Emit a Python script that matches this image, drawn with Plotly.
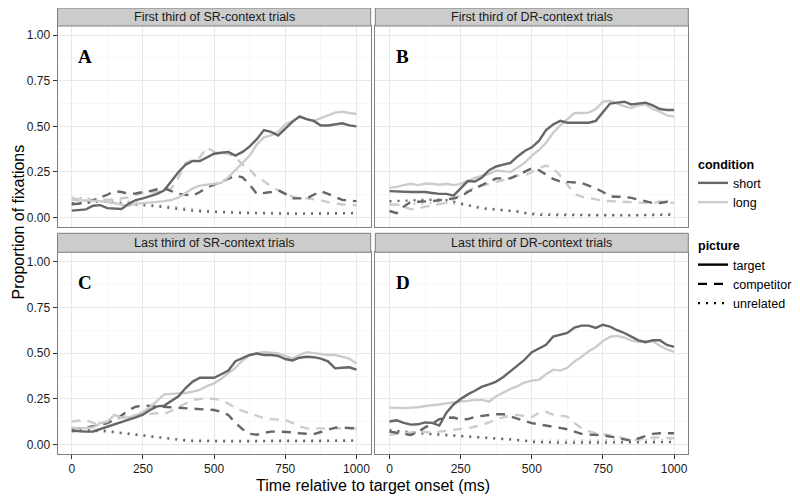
import plotly.graph_objects as go

# ---------------- data ----------------
time_ms = list(range(0, 1001, 25))

A_short_target = [.038,.040,.045,.065,.068,.052,.048,.047,.075,.096,
                  .105,.118,.130,.150,.200,.250,.290,.310,.310,.330,
                  .350,.355,.360,.340,.360,.390,.430,.480,.470,.450,
                  .490,.525,.555,.540,.530,.505,.505,.510,.517,.505,
                  .500]
A_long_target = [.096,.095,.094,.090,.090,.085,.080,.070,.065,.075,
                 .078,.085,.087,.090,.096,.110,.135,.160,.175,.180,
                 .183,.190,.220,.260,.300,.340,.400,.440,.450,.470,
                 .510,.530,.550,.540,.530,.545,.560,.575,.580,.575,
                 .568]
A_short_competitor = [.073,.075,.080,.095,.110,.125,.145,.140,.130,.132,
                      .140,.145,.155,.160,.145,.130,.125,.120,.140,.165,
                      .180,.196,.215,.230,.220,.180,.130,.135,.140,.150,
                      .130,.105,.103,.105,.125,.145,.130,.115,.097,.093,
                      .090]
A_long_competitor = [.105,.100,.097,.096,.095,.097,.100,.105,.110,.125,
                     .136,.138,.140,.150,.160,.220,.300,.315,.330,.385,
                     .360,.355,.350,.330,.290,.265,.220,.200,.170,.150,
                     .130,.115,.105,.105,.100,.095,.085,.078,.072,.070,
                     .068]
A_short_unrelated = [.078,.078,.080,.085,.090,.085,.080,.078,.075,.072,
                     .070,.066,.064,.058,.052,.046,.042,.038,.035,.033,
                     .030,.028,.027,.026,.025,.025,.024,.023,.023,.022,
                     .022,.021,.021,.022,.022,.023,.023,.024,.025,.026,
                     .025]
A_long_unrelated = [.110,.108,.105,.100,.100,.098,.095,.092,.088,.084,
                    .080,.075,.070,.065,.060,.055,.050,.046,.042,.038,
                    .035,.033,.031,.030,.029,.028,.027,.026,.025,.024,
                    .023,.022,.022,.021,.021,.020,.020,.021,.021,.022,
                    .022]

B_short_target = [.145,.142,.140,.140,.140,.140,.135,.130,.130,.120,
                  .160,.200,.198,.220,.260,.280,.290,.300,.335,.365,
                  .385,.420,.480,.510,.530,.520,.520,.520,.520,.530,
                  .580,.625,.630,.635,.620,.625,.630,.615,.595,.590,
                  .590]
B_long_target = [.163,.168,.178,.185,.178,.185,.185,.180,.185,.178,
                 .185,.200,.218,.228,.240,.258,.255,.250,.275,.300,
                 .340,.370,.410,.465,.505,.540,.573,.573,.575,.595,
                 .635,.640,.625,.610,.600,.615,.620,.595,.580,.560,
                 .553]
B_short_competitor = [.036,.024,.060,.087,.087,.088,.090,.095,.100,.105,
                      .115,.140,.160,.178,.200,.215,.215,.215,.232,.250,
                      .270,.260,.235,.212,.198,.196,.196,.190,.175,.160,
                      .140,.116,.114,.114,.108,.098,.092,.080,.080,.087,
                      .075]
B_long_competitor = [.070,.072,.060,.045,.050,.060,.065,.075,.082,.100,
                     .125,.145,.165,.175,.185,.195,.205,.220,.232,.230,
                     .250,.270,.285,.270,.230,.180,.130,.115,.108,.100,
                     .092,.090,.088,.087,.085,.083,.080,.078,.088,.085,
                     .080]
B_short_unrelated = [.090,.092,.095,.095,.095,.097,.098,.098,.095,.088,
                     .078,.068,.058,.050,.047,.044,.042,.038,.033,.025,
                     .018,.015,.015,.014,.014,.014,.013,.013,.013,.013,
                     .012,.012,.012,.012,.012,.013,.013,.014,.014,.015,
                     .016]
B_long_unrelated = [.075,.070,.072,.075,.078,.080,.080,.082,.080,.075,
                    .070,.065,.060,.055,.050,.045,.040,.036,.032,.028,
                    .025,.023,.022,.021,.020,.019,.018,.017,.016,.015,
                    .014,.013,.012,.012,.013,.014,.016,.018,.020,.021,
                    .022]

C_short_target = [.076,.072,.072,.073,.085,.097,.109,.122,.137,.150,
                  .165,.190,.210,.214,.240,.265,.310,.345,.366,.366,
                  .366,.385,.405,.456,.475,.490,.498,.490,.490,.485,
                  .468,.460,.475,.480,.478,.470,.455,.417,.420,.423,
                  .410]
C_long_target = [.094,.090,.092,.095,.118,.127,.163,.148,.150,.160,
                 .180,.205,.240,.275,.278,.280,.283,.290,.300,.320,
                 .335,.360,.390,.420,.460,.490,.500,.505,.502,.498,
                 .485,.470,.490,.505,.500,.493,.490,.490,.482,.470,
                 .444]
C_short_competitor = [.090,.090,.095,.100,.108,.118,.140,.160,.190,.208,
                      .214,.212,.210,.208,.205,.200,.200,.198,.196,.193,
                      .190,.180,.163,.120,.085,.060,.055,.065,.072,.072,
                      .072,.068,.063,.060,.058,.070,.080,.094,.094,.092,
                      .090]
C_long_competitor = [.127,.130,.136,.120,.110,.120,.136,.150,.160,.163,
                     .168,.172,.172,.170,.185,.205,.225,.245,.250,.254,
                     .250,.245,.225,.200,.185,.172,.160,.145,.140,.138,
                     .136,.120,.100,.090,.088,.090,.090,.090,.090,.090,
                     .090]
C_short_unrelated = [.080,.080,.080,.078,.078,.075,.070,.065,.060,.055,
                     .050,.045,.040,.035,.030,.026,.023,.021,.020,.020,
                     .020,.019,.019,.019,.019,.020,.020,.020,.021,.021,
                     .021,.020,.020,.020,.021,.021,.022,.022,.022,.023,
                     .023]
C_long_unrelated = [.070,.072,.075,.075,.073,.070,.066,.062,.058,.054,
                    .050,.046,.042,.038,.034,.031,.028,.027,.026,.026,
                    .025,.025,.025,.024,.024,.024,.025,.025,.025,.025,
                    .024,.024,.024,.024,.024,.024,.025,.025,.025,.026,
                    .026]

D_short_target = [.127,.134,.120,.110,.112,.122,.120,.105,.175,.220,
                  .250,.275,.295,.317,.330,.345,.370,.400,.435,.465,
                  .505,.525,.545,.590,.600,.610,.640,.650,.650,.638,
                  .655,.645,.625,.610,.590,.570,.560,.570,.570,.545,
                  .534]
D_long_target = [.203,.200,.200,.203,.205,.212,.214,.220,.226,.233,
                 .236,.240,.245,.245,.235,.265,.285,.305,.320,.340,
                 .350,.355,.385,.410,.405,.420,.455,.480,.510,.534,
                 .565,.590,.594,.585,.570,.560,.565,.565,.540,.520,
                 .507]
D_short_competitor = [.072,.068,.060,.054,.070,.095,.115,.140,.147,.149,
                      .138,.140,.152,.158,.163,.167,.167,.155,.143,.130,
                      .118,.112,.105,.100,.092,.085,.072,.060,.056,.055,
                      .052,.045,.040,.030,.023,.035,.048,.060,.063,.063,
                      .063]
D_long_competitor = [.054,.058,.063,.068,.072,.070,.065,.072,.078,.082,
                     .087,.090,.098,.108,.122,.140,.150,.160,.163,.155,
                     .150,.175,.180,.165,.160,.154,.120,.090,.075,.062,
                     .058,.052,.045,.035,.022,.028,.035,.040,.040,.038,
                     .036]
D_short_unrelated = [.080,.078,.072,.068,.065,.062,.058,.055,.053,.050,
                     .048,.045,.043,.040,.038,.035,.032,.030,.027,.022,
                     .016,.014,.013,.013,.012,.012,.012,.012,.012,.012,
                     .012,.012,.013,.013,.013,.013,.014,.014,.015,.015,
                     .015]
D_long_unrelated = [.070,.068,.065,.062,.060,.058,.055,.052,.050,.048,
                    .046,.044,.042,.040,.037,.034,.031,.028,.026,.025,
                    .024,.024,.023,.023,.023,.022,.022,.022,.022,.022,
                    .022,.023,.023,.023,.024,.024,.025,.026,.027,.028,
                    .030]

panel_letters = ["A", "B", "C", "D"]
panel_titles = ["First third of SR-context trials",
                "First third of DR-context trials",
                "Last third of SR-context trials",
                "Last third of DR-context trials"]
conditions = ["short", "long"]
pictures = ["target", "competitor", "unrelated"]
x_tick_vals = [0, 250, 500, 750, 1000]
y_tick_vals = [0.0, 0.25, 0.50, 0.75, 1.00]

series = {
    "A": {"short": {"target": A_short_target, "competitor": A_short_competitor, "unrelated": A_short_unrelated},
          "long": {"target": A_long_target, "competitor": A_long_competitor, "unrelated": A_long_unrelated}},
    "B": {"short": {"target": B_short_target, "competitor": B_short_competitor, "unrelated": B_short_unrelated},
          "long": {"target": B_long_target, "competitor": B_long_competitor, "unrelated": B_long_unrelated}},
    "C": {"short": {"target": C_short_target, "competitor": C_short_competitor, "unrelated": C_short_unrelated},
          "long": {"target": C_long_target, "competitor": C_long_competitor, "unrelated": C_long_unrelated}},
    "D": {"short": {"target": D_short_target, "competitor": D_short_competitor, "unrelated": D_short_unrelated},
          "long": {"target": D_long_target, "competitor": D_long_competitor, "unrelated": D_long_unrelated}},
}

# ---------------- style ----------------
# the page body has an 8px default margin, so the figure is 792x492
OFF = 8
W, H = 800 - OFF, 500 - OFF


def fx(a):
    return (a - OFF) / W


def fy(a):
    return 1 - (a - OFF) / H


COLORS = {"short": "#666666", "long": "#cccccc"}
DASHES = {"target": "solid", "competitor": "9px,7px", "unrelated": "2px,6px"}
LW = 2.4
FONT = "Liberation Sans, Arial, sans-serif"

xdom = {"L": [fx(57.5), fx(370.7)], "R": [fx(375.3), fx(688.3)]}
ydom = {"T": [fy(226.7), fy(26.0)], "B": [fy(454.0), fy(252.3)]}
strip_y = {"T": [fy(26.0), fy(8.0)], "B": [fy(252.3), fy(233.3)]}
panel_pos = {"A": ("L", "T"), "B": ("R", "T"), "C": ("L", "B"), "D": ("R", "B")}

fig = go.Figure()
layout = {}
shapes = []
annotations = []

for i, p in enumerate(panel_letters):
    n = i + 1
    xa = "x" if n == 1 else f"x{n}"
    ya = "y" if n == 1 else f"y{n}"
    col, row = panel_pos[p]
    for pic in pictures[::-1]:
        for cond in ["long", "short"]:
            fig.add_trace(go.Scatter(
                x=time_ms, y=series[p][cond][pic], mode="lines",
                line=dict(color=COLORS[cond], width=LW, dash=DASHES[pic]),
                xaxis=xa, yaxis=ya, showlegend=False, hoverinfo="skip"))
    bottom = row == "B"
    left = col == "L"
    layout["xaxis" if n == 1 else f"xaxis{n}"] = dict(
        domain=xdom[col], anchor=ya, range=[-50, 1050], automargin=False,
        tickvals=x_tick_vals, ticktext=[str(v) for v in x_tick_vals],
        showticklabels=bottom, ticks="outside" if bottom else "",
        ticklen=4, tickwidth=1, tickcolor="#333333",
        tickfont=dict(family=FONT, size=12, color="#1a1a1a"),
        showgrid=True, gridcolor="#e8e8e8", gridwidth=1,
        minor=dict(dtick=125, tick0=0, showgrid=True, gridcolor="#f7f7f7", ticks=""),
        zeroline=False, showline=True, mirror=True, linecolor="#7f7f7f", linewidth=1)
    layout["yaxis" if n == 1 else f"yaxis{n}"] = dict(
        domain=ydom[row], anchor=xa, range=[-0.05, 1.05], automargin=False,
        tickvals=y_tick_vals, ticktext=[f"{v:.2f}" for v in y_tick_vals],
        showticklabels=left, ticks="outside" if left else "",
        ticklen=4, tickwidth=1, tickcolor="#333333",
        tickfont=dict(family=FONT, size=12, color="#1a1a1a"),
        showgrid=True, gridcolor="#e8e8e8", gridwidth=1,
        minor=dict(dtick=0.125, tick0=0, showgrid=True, gridcolor="#f7f7f7", ticks=""),
        zeroline=False, showline=True, mirror=True, linecolor="#7f7f7f", linewidth=1)
    # strip
    shapes.append(dict(type="rect", xref="paper", yref="paper",
                       x0=xdom[col][0], x1=xdom[col][1],
                       y0=strip_y[row][0], y1=strip_y[row][1],
                       fillcolor="#cccccc", line=dict(color="#7f7f7f", width=1)))
    annotations.append(dict(xref="paper", yref="paper",
                            x=(xdom[col][0] + xdom[col][1]) / 2,
                            y=(strip_y[row][0] + strip_y[row][1]) / 2,
                            text=panel_titles[i], showarrow=False,
                            xanchor="center", yanchor="middle",
                            font=dict(family=FONT, size=12.5, color="#1a1a1a")))
    # panel letter
    annotations.append(dict(xref=xa, yref=ya, x=47, y=0.885, text=f"<b>{p}</b>",
                            showarrow=False, xanchor="center", yanchor="middle",
                            font=dict(family="Liberation Serif, Times New Roman, serif",
                                      size=19, color="#000000")))

# legend entries
for cond in conditions:
    fig.add_trace(go.Scatter(x=[None], y=[None], mode="lines", name=cond,
                             line=dict(color=COLORS[cond], width=LW),
                             legendgroup="condition",
                             legendgrouptitle=dict(text="<b>condition</b>",
                                                   font=dict(family=FONT, size=12.5, color="#000")),
                             showlegend=True))
for pic in pictures:
    fig.add_trace(go.Scatter(x=[None], y=[None], mode="lines", name=pic,
                             line=dict(color="#000000", width=LW, dash=DASHES[pic]),
                             legendgroup="picture",
                             legendgrouptitle=dict(text="<b>picture</b>",
                                                   font=dict(family=FONT, size=12.5, color="#000")),
                             showlegend=True))

annotations.append(dict(xref="paper", yref="paper", x=fx(373), y=fy(485),
                        text="Time relative to target onset (ms)", showarrow=False,
                        xanchor="center", yanchor="middle",
                        font=dict(family=FONT, size=16, color="#000000")))
annotations.append(dict(xref="paper", yref="paper", x=fx(17.5), y=fy(222),
                        text="Proportion of fixations", showarrow=False, textangle=-90,
                        xanchor="center", yanchor="middle",
                        font=dict(family=FONT, size=16, color="#000000")))

fig.update_layout(
    **layout,
    width=W, height=H,
    margin=dict(l=0, r=0, t=0, b=0, autoexpand=False),
    paper_bgcolor="white", plot_bgcolor="white",
    shapes=shapes, annotations=annotations,
    legend=dict(x=fx(693), y=fy(149), xanchor="left", yanchor="top",
                font=dict(family=FONT, size=12.5, color="#000000"),
                tracegroupgap=24, bgcolor="rgba(0,0,0,0)", itemwidth=30,
                groupclick="toggleitem"),
    showlegend=True,
)

fig.write_html("out.html")
